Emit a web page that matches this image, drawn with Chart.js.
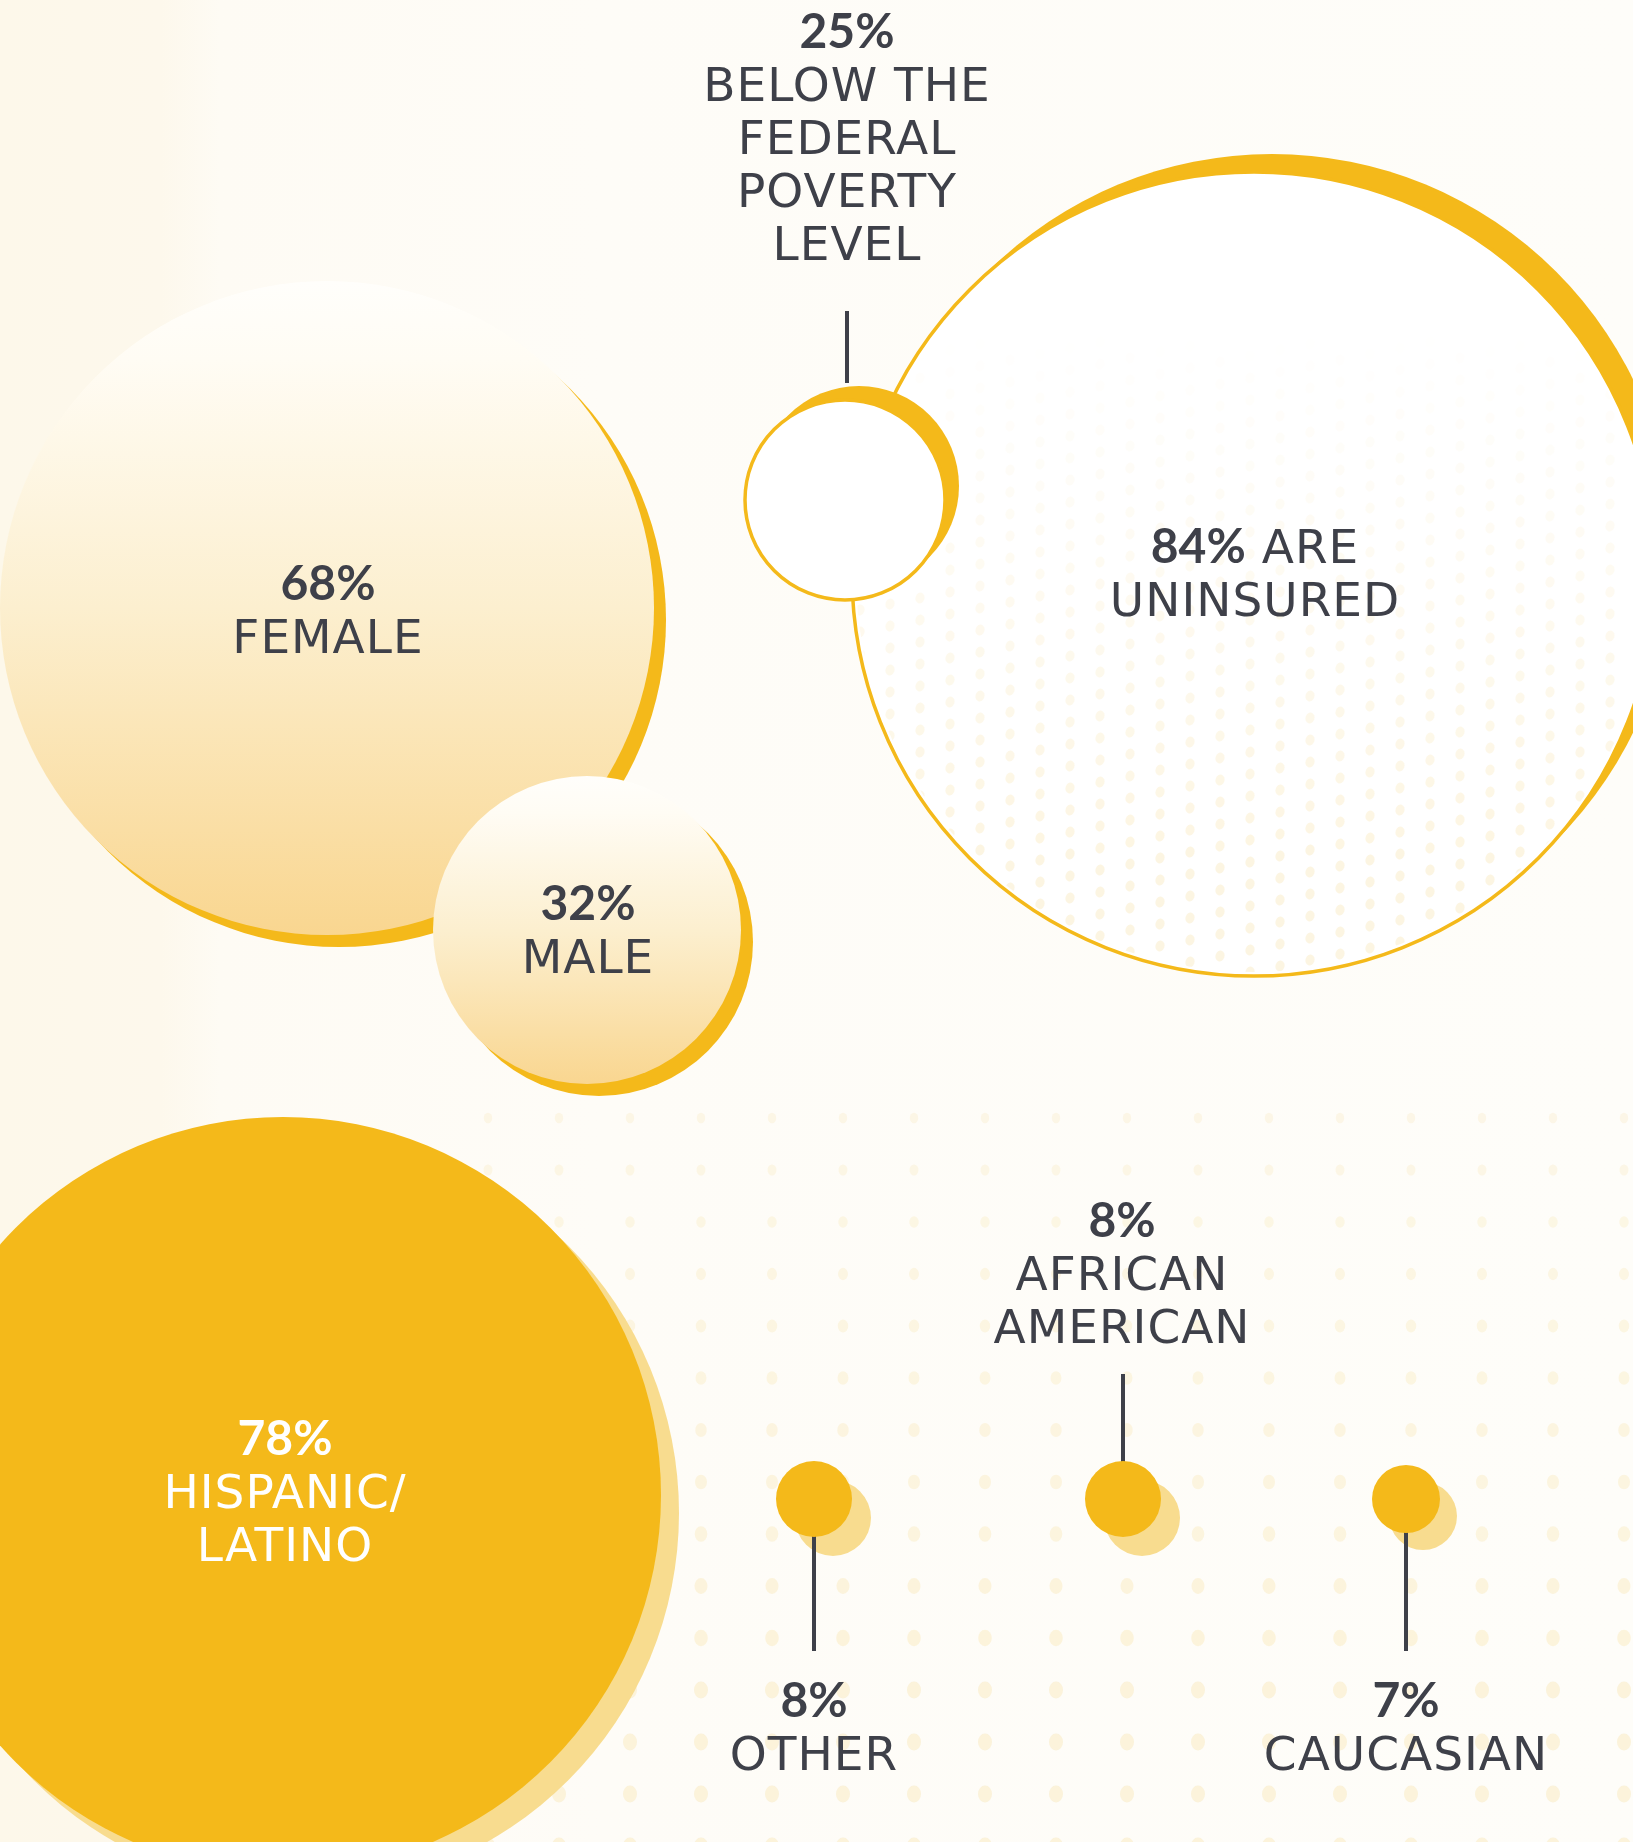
<!DOCTYPE html>
<html>
<head>
<meta charset="utf-8">
<script src="https://cdn.jsdelivr.net/npm/chart.js@4.4.1/dist/chart.umd.min.js"></script>
<style>
    html, body { margin: 0; padding: 0; }
    body {
        width: 1633px; height: 1842px; overflow: hidden;
        background: linear-gradient(to right, #fdf8ea 0px, #fdf8ec 160px, #fefbf4 220px, #fefcf7 600px, #fefdf9 100%);
    }
    #wrap { position: relative; width: 1633px; height: 1842px; }
</style>
</head>
<body>
<div id="wrap"><canvas id="chartCanvas" width="1633" height="1842"></canvas></div>
<script>
// groups in drawing order (later ones sit on top)
const groups = ['Female', 'Male', 'Uninsured', 'Poverty', 'Hispanic/Latino', 'Other', 'African American', 'Caucasian'];
const percents = [68, 32, 84, 25, 78, 8, 8, 7];
const captions = [
    ['FEMALE'],
    ['MALE'],
    ['ARE', 'UNINSURED'],
    ['BELOW THE', 'FEDERAL', 'POVERTY', 'LEVEL'],
    ['HISPANIC/', 'LATINO'],
    ['OTHER'],
    ['AFRICAN', 'AMERICAN'],
    ['CAUCASIAN']
];

// layout (canvas units)
const bubbleX = [327, 587, 1254, 845, 283, 814, 1123, 1406];
const bubbleY = [608, 930, 574, 500, 1495, 1499, 1499, 1499];
const bubbleR = [327, 154, 402, 100, 378, 38, 38, 34];
const shadowDX = [12, 12, 18, 14, 18, 19, 19, 17];
const shadowDY = [12, 12, -18, -14, 18, 19, 19, 17];
const labelX = [328, 588, 1255, 847, 285, 814, 1122, 1406];
const labelY = [583, 903, 546, 31, 1438, 1700, 1220, 1700];

// leader lines (which group each belongs to)
const leaderGroup = [3, 6, 5, 7];
const leaderX = [847, 1123, 814, 1406];
const leaderTop = [311, 1374, 1499, 1499];
const leaderBottom = [383, 1499, 1651, 1651];

const ORANGE = '#f4b91a';
const PALE = '#f8dc8f';
const INK = '#3e4049';
const mainFill = ['grad', 'grad', '#ffffff', '#ffffff', ORANGE, ORANGE, ORANGE, ORANGE];
const mainBorder = [0, 0, 3.5, 3.5, 0, 0, 0, 0];
const shadowFill = [ORANGE, ORANGE, ORANGE, ORANGE, PALE, PALE, PALE, PALE];
const textColor = [INK, INK, INK, INK, '#ffffff', INK, INK, INK];

function warmGradient(c, i) {
    const chart = c.chart;
    const ys = chart.scales.y;
    if (!ys) return '#fbe6b4';
    const top = ys.getPixelForValue(bubbleY[i] - bubbleR[i]);
    const bottom = ys.getPixelForValue(bubbleY[i] + bubbleR[i]);
    if (!isFinite(top) || !isFinite(bottom)) return '#fbe6b4';
    const g = chart.ctx.createLinearGradient(0, top, 0, bottom);
    g.addColorStop(0, '#fffefb');
    g.addColorStop(0.12, '#fffcf4');
    g.addColorStop(0.5, '#fcefcf');
    g.addColorStop(1, '#f9d690');
    return g;
}

const regularFont = '47px "DejaVu Sans"';
const boldFont = 'bold 48px Lato';
const lineGap = 53;
const capHalf = 17;

const dotsPlugin = {
    id: 'dots',
    beforeDatasetsDraw(chart) {
        const { ctx, scales: { x, y } } = chart;
        ctx.save();
        for (let cx = 488; cx < 1640; cx += 71) {
            for (let cy = 1118; cy < 1850; cy += 52) {
                const t = Math.min(1, (cy - 1080) / 600);
                ctx.fillStyle = 'rgba(250, 234, 190,' + (0.3 + 0.2 * t) + ')';
                ctx.beginPath();
                ctx.ellipse(x.getPixelForValue(cx), y.getPixelForValue(cy), 4 + 3 * t, 5 + 3.5 * t, 0, 0, Math.PI * 2);
                ctx.fill();
            }
        }
        ctx.restore();
    }
};

const textPlugin = {
    id: 'bubbleText',
    afterDatasetsDraw(chart) {
        const { ctx, scales: { x, y } } = chart;
        // faint dot screen inside the uninsured circle
        const u = 2, p = 3;
        const ux = x.getPixelForValue(bubbleX[u]), uy = y.getPixelForValue(bubbleY[u]);
        ctx.save();
        ctx.beginPath();
        ctx.arc(ux, uy, bubbleR[u] - 4, 0, Math.PI * 2);
        ctx.clip();
        let col = 0;
        for (let cx = 860; cx < 1660; cx += 30, col++) {
            for (let cy = 170 - (col * 6) % 22; cy < 990; cy += 22) {
                if (Math.hypot(cx - bubbleX[p] - shadowDX[p], cy - bubbleY[p] - shadowDY[p]) < bubbleR[p] + 10) continue;
                const t = Math.max(0, Math.min(1, (cy - 330) / 520));
                if (t <= 0) continue;
                ctx.fillStyle = 'rgba(250, 236, 198,' + (0.5 * t) + ')';
                ctx.beginPath();
                ctx.ellipse(x.getPixelForValue(cx), y.getPixelForValue(cy), 4.5, 5.5, 0.3, 0, Math.PI * 2);
                ctx.fill();
            }
        }
        ctx.restore();

        ctx.save();
        ctx.textBaseline = 'alphabetic';
        groups.forEach((g, i) => {
            const cx = x.getPixelForValue(labelX[i]);
            let cy = y.getPixelForValue(labelY[i]) + capHalf;
            ctx.fillStyle = textColor[i];
            const num = percents[i] + '%';
            const lines = captions[i].slice();
            ctx.letterSpacing = '0px';
            if (g === 'Uninsured') {
                const rest = ' ' + lines.shift();
                ctx.font = boldFont;
                const wb = ctx.measureText(num).width;
                ctx.font = regularFont;
                ctx.letterSpacing = '1px';
                const wr = ctx.measureText(rest).width;
                const start = cx - (wb + wr) / 2;
                ctx.textAlign = 'left';
                ctx.fillText(rest, start + wb, cy);
                ctx.letterSpacing = '0px';
                ctx.font = boldFont;
                ctx.fillText(num, start, cy);
            } else {
                ctx.textAlign = 'center';
                ctx.font = boldFont;
                ctx.fillText(num, cx, cy);
            }
            ctx.textAlign = 'center';
            ctx.font = regularFont;
            ctx.letterSpacing = '1px';
            lines.forEach(line => {
                cy += lineGap;
                ctx.fillText(line, cx, cy);
            });
        });
        ctx.restore();
    }
};

// one shadow + one main bubble per group, stacked in group order
const datasets = [];
groups.forEach((g, i) => {
    const base = 100 - 3 * i;
    datasets.push({
        label: g + ' shadow',
        data: [{ x: bubbleX[i] + shadowDX[i], y: bubbleY[i] + shadowDY[i], r: bubbleR[i] }],
        backgroundColor: shadowFill[i],
        borderWidth: 0,
        clip: false,
        order: base
    });
    datasets.push({
        label: g,
        data: [{ x: bubbleX[i], y: bubbleY[i], r: bubbleR[i] }],
        backgroundColor: mainFill[i] === 'grad' ? (c => warmGradient(c, i)) : mainFill[i],
        borderColor: ORANGE,
        borderWidth: mainBorder[i],
        clip: false,
        order: base - 2
    });
});
leaderX.forEach((lx, k) => {
    datasets.push({
        type: 'line',
        label: groups[leaderGroup[k]] + ' leader',
        data: [{ x: lx, y: leaderTop[k] }, { x: lx, y: leaderBottom[k] }],
        borderColor: INK,
        borderWidth: 4,
        borderCapStyle: 'butt',
        pointRadius: 0,
        fill: false,
        clip: false,
        order: 100 - 3 * leaderGroup[k] - 1
    });
});

new Chart(document.getElementById('chartCanvas').getContext('2d'), {
    type: 'bubble',
    data: { datasets: datasets },
    options: {
        responsive: false,
        devicePixelRatio: 1,
        animation: false,
        events: [],
        layout: { padding: 0, autoPadding: false },
        plugins: { legend: { display: false }, tooltip: { enabled: false } },
        scales: {
            x: { type: 'linear', min: 0, max: 1633, display: false },
            y: { type: 'linear', min: 0, max: 1842, reverse: true, display: false }
        }
    },
    plugins: [dotsPlugin, textPlugin]
});
</script>
</body>
</html>
